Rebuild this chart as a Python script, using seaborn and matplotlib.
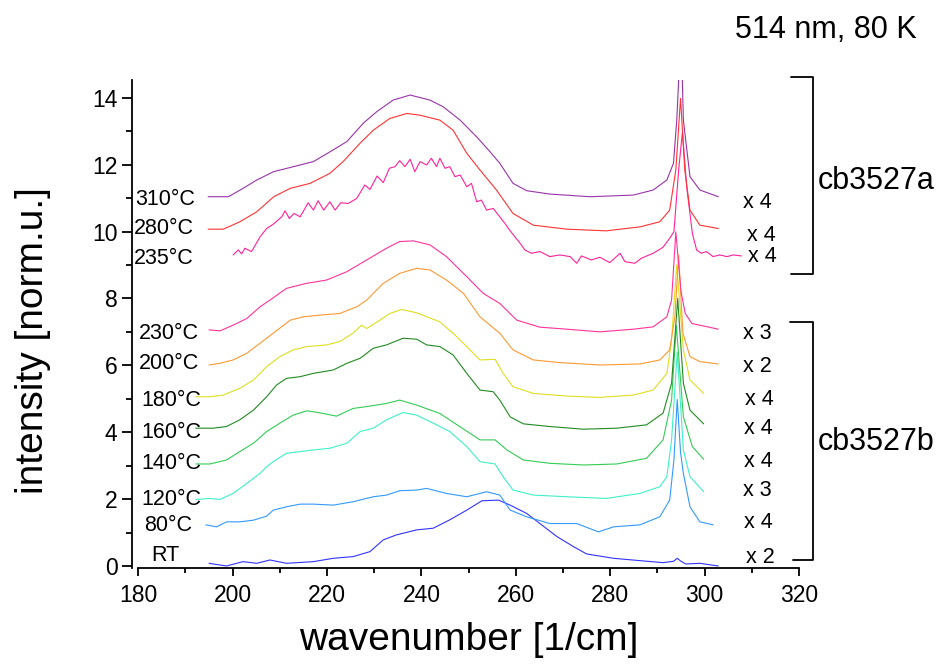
import matplotlib
matplotlib.use("Agg")
import matplotlib.pyplot as plt
import seaborn as sns
import pandas as pd
from matplotlib.lines import Line2D

# Raman spectra (514 nm excitation, 80 K), vertically offset, per annealing temperature
labels = ["RT", "80°C", "120°C", "140°C", "160°C", "180°C", "200°C",
          "230°C", "235°C", "280°C", "310°C"]
factors = ["x 2", "x 4", "x 3", "x 4", "x 4", "x 4", "x 2",
           "x 3", "x 4", "x 4", "x 4"]
colors = ["#3333ff", "#3399ff", "#3ff0c8", "#33cc55", "#228b22", "#dede22",
          "#ff9933", "#ff3399", "#ff2299", "#ff3333", "#9933aa"]

x_rt = [195.0, 198.7, 202.2, 205.1, 207.9, 211.4, 217.1, 221.3, 225.5, 229.1, 231.9,
        234.7, 239.0, 242.5, 246.0, 249.6, 252.8, 256.3, 258.8, 262.3, 265.1, 268.7,
        272.2, 275.0, 280.7, 286.3, 291.2, 293.4, 294.2, 295.0, 296.0, 299.0, 302.9]
y_rt = [0.08, 0.00, 0.13, 0.08, 0.18, 0.08, 0.13, 0.23, 0.28, 0.43, 0.78,
        0.93, 1.08, 1.13, 1.38, 1.67, 1.95, 1.97, 1.82, 1.57, 1.27, 0.88,
        0.58, 0.36, 0.23, 0.16, 0.10, 0.14, 0.23, 0.14, 0.06, 0.08, 0.00]

x_80 = [194.3, 196.6, 198.7, 201.5, 204.4, 207.2, 208.6, 211.4, 214.3, 217.1, 221.3,
        225.5, 229.8, 232.6, 235.4, 239.0, 241.1, 245.3, 249.6, 253.8, 256.6, 258.8,
        262.3, 267.2, 272.9, 277.5, 280.7, 286.3, 290.5, 292.6, 293.5, 294.2, 294.9,
        295.5, 296.9, 299.0, 301.8]
y_80 = [1.23, 1.17, 1.32, 1.32, 1.37, 1.49, 1.67, 1.77, 1.85, 1.85, 1.82,
        1.92, 2.07, 2.12, 2.25, 2.27, 2.32, 2.17, 2.07, 2.22, 2.12, 1.67,
        1.47, 1.27, 1.27, 1.02, 1.17, 1.23, 1.47, 1.97, 3.17, 4.98, 3.40,
        2.77, 1.77, 1.32, 1.23]

x_120 = [192.2, 195.2, 197.3, 200.1, 203.0, 205.8, 207.2, 208.6, 211.4, 214.3, 217.1,
         220.6, 224.2, 227.0, 229.8, 232.6, 236.1, 239.0, 242.5, 246.0, 249.6, 252.4,
         255.6, 257.3, 259.4, 263.7, 270.8, 279.2, 286.3, 290.5, 292.0, 293.0, 294.2,
         295.5, 296.9, 299.8]
y_120 = [1.99, 2.02, 1.99, 2.17, 2.47, 2.77, 2.97, 3.12, 3.37, 3.42, 3.47,
         3.52, 3.67, 4.02, 4.12, 4.37, 4.59, 4.51, 4.27, 4.02, 3.57, 3.12,
         3.05, 2.67, 2.27, 2.12, 2.07, 2.02, 2.17, 2.37, 2.67, 3.77, 6.40,
         3.47, 2.67, 2.22]

x_140 = [192.2, 195.2, 198.7, 201.5, 204.4, 207.2, 210.0, 212.8, 215.7, 218.5, 222.0,
         225.5, 229.1, 232.6, 235.4, 239.0, 243.9, 248.1, 252.4, 255.6, 258.1, 261.6,
         267.2, 274.3, 281.4, 287.7, 291.2, 293.0, 294.0, 295.5, 297.4, 299.8]
y_140 = [3.05, 3.05, 3.17, 3.42, 3.67, 4.02, 4.27, 4.51, 4.64, 4.58, 4.48,
         4.71, 4.78, 4.86, 4.96, 4.81, 4.56, 4.17, 3.77, 3.77, 3.47, 3.17,
         3.07, 3.02, 3.05, 3.22, 3.77, 4.96, 7.20, 4.46, 3.57, 3.19]

x_160 = [192.2, 195.9, 198.7, 201.5, 204.4, 207.2, 209.3, 211.4, 214.3, 217.1, 221.3,
         224.2, 227.0, 229.8, 232.6, 236.1, 239.0, 241.1, 243.9, 246.7, 249.6, 252.4,
         255.2, 256.6, 258.8, 261.6, 267.2, 274.3, 281.4, 287.7, 291.2, 293.0, 294.3,
         295.5, 296.9, 299.8]
y_160 = [4.12, 4.12, 4.17, 4.37, 4.66, 5.06, 5.41, 5.61, 5.66, 5.76, 5.86,
         6.06, 6.21, 6.51, 6.61, 6.81, 6.78, 6.61, 6.56, 6.31, 5.76, 5.26,
         5.21, 4.96, 4.46, 4.25, 4.17, 4.09, 4.12, 4.22, 4.57, 5.46, 8.00,
         5.46, 4.66, 4.25]

x_180 = [192.2, 195.2, 198.0, 201.5, 204.4, 207.2, 210.0, 212.8, 215.7, 219.9, 222.7,
         225.5, 227.3, 228.4, 231.2, 233.3, 235.8, 239.0, 243.9, 246.7, 249.6, 252.4,
         255.6, 257.3, 259.4, 263.7, 270.8, 277.8, 284.9, 289.1, 292.0, 293.0, 294.1,
         295.5, 296.9, 299.8]
y_180 = [5.06, 5.06, 5.11, 5.31, 5.56, 5.96, 6.26, 6.46, 6.56, 6.61, 6.71,
         6.96, 7.20, 7.10, 7.35, 7.55, 7.67, 7.57, 7.30, 6.96, 6.56, 6.16,
         6.18, 5.76, 5.36, 5.16, 5.08, 5.04, 5.11, 5.26, 5.76, 6.76, 9.00,
         6.46, 5.56, 5.16]

x_200 = [195.0, 197.3, 200.1, 203.0, 205.8, 208.6, 212.2, 215.0, 218.5, 222.7, 226.3,
         228.4, 231.9, 235.4, 239.0, 241.8, 245.3, 248.9, 252.4, 256.6, 259.4, 263.7,
         269.4, 277.8, 286.3, 290.5, 292.6, 293.7, 294.5, 295.4, 296.9, 299.0, 302.9]
y_200 = [6.01, 6.06, 6.16, 6.36, 6.66, 6.96, 7.35, 7.45, 7.50, 7.55, 7.75,
         7.95, 8.45, 8.75, 8.90, 8.85, 8.55, 8.15, 7.45, 6.96, 6.46, 6.16,
         6.08, 6.01, 6.04, 6.16, 6.46, 7.45, 9.30, 6.96, 6.26, 6.11, 6.04]

x_230 = [195.0, 197.3, 200.1, 203.0, 205.8, 207.9, 211.4, 215.6, 219.9, 224.2, 228.4,
         232.6, 235.4, 238.3, 241.8, 245.3, 249.6, 253.1, 256.6, 260.2, 265.1, 270.8,
         277.8, 284.9, 289.1, 292.0, 293.0, 293.9, 295.0, 295.9, 297.3, 302.9]
y_230 = [7.06, 7.03, 7.20, 7.40, 7.75, 7.95, 8.30, 8.45, 8.55, 8.80, 9.15,
         9.50, 9.70, 9.72, 9.60, 9.25, 8.65, 8.15, 7.85, 7.35, 7.14, 7.08,
         7.00, 7.08, 7.15, 7.45, 7.95, 9.99, 8.20, 7.55, 7.25, 7.08]

x_235 = [200.1, 201.2, 201.9, 202.6, 204.0, 205.8, 207.2, 208.6, 210.4, 211.1, 212.0,
         213.0, 214.3, 216.0, 217.1, 218.1, 219.3, 220.6, 221.7, 222.9, 224.5, 226.3,
         228.0, 229.1, 230.6, 231.9, 233.2, 234.4, 235.4, 236.5, 237.6, 238.6, 239.7,
         241.1, 242.1, 243.2, 243.9, 245.0, 246.0, 247.1, 248.2, 249.6, 250.6, 251.7,
         252.7, 253.8, 255.2, 256.6, 257.7, 258.7, 259.8, 260.9, 261.9, 263.3, 265.1,
         267.2, 269.3, 271.5, 272.9, 273.9, 276.0, 277.8, 279.9, 282.1, 283.1, 285.2,
         286.6, 289.1, 291.2, 292.6, 293.5, 294.5, 295.3, 296.2, 297.4, 298.3, 299.3,
         300.4, 301.8, 303.2, 304.7, 306.1, 307.8]
y_235 = [9.30, 9.45, 9.33, 9.50, 9.40, 9.84, 10.09, 10.22, 10.44, 10.62, 10.39,
         10.54, 10.44, 10.86, 10.64, 10.92, 10.64, 10.89, 10.64, 10.86, 10.84, 10.99,
         11.39, 11.26, 11.66, 11.46, 11.89, 11.94, 12.12, 11.94, 12.16, 11.79, 12.09,
         11.99, 12.19, 11.94, 12.19, 11.89, 11.94, 11.64, 11.69, 11.34, 11.44, 10.89,
         10.94, 10.64, 10.69, 10.44, 10.24, 10.04, 9.84, 9.65, 9.45, 9.35, 9.40,
         9.25, 9.30, 9.25, 9.05, 9.27, 9.15, 9.23, 9.07, 9.35, 9.10, 9.05,
         9.20, 9.35, 9.53, 9.80, 9.99, 11.84, 12.98, 11.34, 9.95, 9.45, 9.35,
         9.40, 9.25, 9.30, 9.25, 9.30, 9.27]

x_280 = [194.8, 198.0, 201.5, 205.1, 208.7, 212.2, 216.4, 220.6, 223.4, 227.0, 229.8,
         233.3, 236.9, 239.6, 243.9, 246.7, 249.6, 252.4, 255.9, 259.4, 263.7, 270.8,
         279.2, 286.3, 290.5, 292.6, 293.9, 294.9, 295.8, 296.9, 299.0, 302.9]
y_280 = [10.07, 10.07, 10.29, 10.59, 11.04, 11.29, 11.44, 11.74, 12.09, 12.64, 13.03,
         13.38, 13.53, 13.48, 13.33, 13.03, 12.34, 11.84, 11.24, 10.54, 10.19, 10.07,
         10.02, 10.14, 10.29, 10.64, 11.84, 13.98, 11.84, 10.64, 10.19, 10.09]

x_310 = [194.8, 199.1, 202.2, 205.1, 208.7, 214.3, 217.1, 221.3, 224.2, 227.7, 230.5,
         234.0, 237.6, 241.8, 244.6, 248.2, 251.7, 254.5, 256.6, 259.4, 262.3, 267.2,
         275.7, 284.9, 289.1, 292.0, 293.4, 294.1, 295.0, 295.5, 296.9, 299.0, 302.9]
y_310 = [11.04, 11.04, 11.29, 11.54, 11.79, 11.99, 12.09, 12.44, 12.69, 13.24, 13.58,
         13.93, 14.08, 13.93, 13.73, 13.33, 12.83, 12.39, 12.04, 11.44, 11.22, 11.12,
         11.04, 11.09, 11.24, 11.54, 12.04, 13.33, 16.00, 13.33, 11.64, 11.24, 11.04]

series_x = [x_rt, x_80, x_120, x_140, x_160, x_180, x_200, x_230, x_235, x_280, x_310]
series_y = [y_rt, y_80, y_120, y_140, y_160, y_180, y_200, y_230, y_235, y_280, y_310]

# text anchor positions (data coordinates)
label_pos = [(182.7, 0.31), (181.2, 1.21), (180.6, 1.99), (180.6, 3.07), (180.6, 4.00),
             (180.6, 4.96), (180.15, 6.06), (180.15, 6.96), (179.1, 9.18), (179.1, 10.10),
             (179.3, 10.97)]
factor_pos = [(308.7, 0.25), (308.3, 1.30), (308.1, 2.26), (308.3, 3.13), (308.3, 4.12),
              (308.5, 4.99), (308.1, 5.97), (308.1, 6.96), (309.2, 9.24), (309.0, 9.87),
              (308.1, 10.88)]

frames = []
for name, xs, ys in zip(labels, series_x, series_y):
    frames.append(pd.DataFrame({"wavenumber": xs, "intensity": ys, "sample": name}))
df = pd.concat(frames, ignore_index=True)

sns.set_style("ticks")
plt.rcParams["font.family"] = ["Liberation Sans", "DejaVu Sans"]
plt.rcParams["text.color"] = "black"
plt.rcParams["axes.labelcolor"] = "black"

fig = plt.figure(figsize=(9.41, 6.70), dpi=100)
ax = fig.add_axes([132 / 941, 102 / 670, 667 / 941, 488 / 670])

sns.lineplot(data=df, x="wavenumber", y="intensity", hue="sample",
             palette=dict(zip(labels, colors)), hue_order=labels,
             estimator=None, sort=False, legend=False, linewidth=0.8, ax=ax)

ax.set_xlim(178.67, 320)
ax.set_ylim(-0.06, 14.53)
ax.set_xticks(range(180, 321, 20))
ax.set_xticks(range(190, 320, 20), minor=True)
ax.set_yticks(range(0, 15, 2))
ax.set_yticks(range(1, 15, 2), minor=True)
for s in ("top", "right"):
    ax.spines[s].set_visible(False)
for s in ("left", "bottom"):
    ax.spines[s].set_linewidth(1.3)
    ax.spines[s].set_color("black")
ax.spines["bottom"].set_bounds(180, 320)
ax.tick_params(axis="both", which="both", direction="out", width=1.3,
               colors="black", labelcolor="black")
ax.tick_params(axis="both", which="major", labelsize=16.5)
ax.tick_params(axis="y", which="major", length=7.5, pad=3)
ax.tick_params(axis="y", which="minor", length=4.5)
ax.tick_params(axis="x", which="major", length=5.5, pad=6)
ax.tick_params(axis="x", which="minor", length=3.5)

ax.set_xlabel("wavenumber [1/cm]", fontsize=28, color="black")
ax.set_ylabel("intensity [norm.u.]", fontsize=28, color="black")
ax.xaxis.set_label_coords(0.505, -0.1475)
ax.xaxis.label.set_va("center")
ax.yaxis.set_label_coords(-0.149, 0.467)
ax.yaxis.label.set_va("center")

for name, (tx, ty) in zip(labels, label_pos):
    ax.text(tx, ty, name, fontsize=15.5, ha="left", va="center", color="black", clip_on=False)
for fac, (tx, ty) in zip(factors, factor_pos):
    ax.text(tx, ty, fac, fontsize=15.5, ha="left", va="center", color="black", clip_on=False)

# sample brackets
for (ytop, ybot, xl_top, xl_bot) in [(14.62, 8.73, 318.2, 318.4), (7.29, 0.19, 318.0, 318.7)]:
    ax.add_line(Line2D([xl_top, 323.0, 323.0, xl_bot], [ytop, ytop, ybot, ybot],
                       color="black", linewidth=1.3, clip_on=False))
ax.text(324.0, 11.5, "cb3527a", fontsize=22, ha="left", va="center", color="black", clip_on=False)
ax.text(324.0, 3.70, "cb3527b", fontsize=22, ha="left", va="center", color="black", clip_on=False)

fig.text(735 / 941, 1 - 30 / 670, "514 nm, 80 K", fontsize=22, ha="left", va="center",
         color="black")

fig.savefig("out.png", dpi=100)
